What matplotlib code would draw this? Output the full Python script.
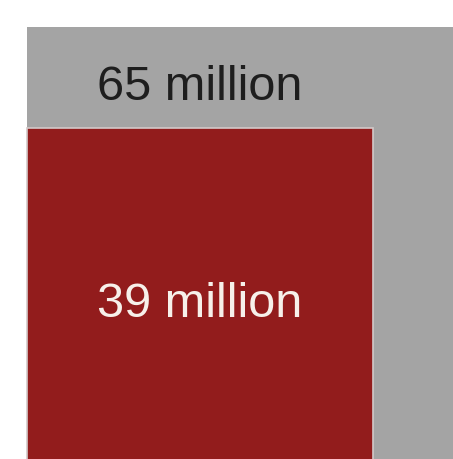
import numpy as np
import matplotlib
matplotlib.use("Agg")
import matplotlib.pyplot as plt
from matplotlib.patches import Rectangle

# values in millions, drawn as nested squares (area ~ value)
labels = ["65 million", "39 million"]
values = [65, 39]
colors = ["#a4a4a4", "#921c1c"]
text_colors = ["#1e1e1e", "#f7f0ea"]

sides = np.sqrt(values)

fig = plt.figure(figsize=(4.53, 4.6), dpi=100)
ax = fig.add_axes([0, 0, 1, 1])
ax.set_axis_off()

# outer square (total) and inner square share the bottom-left corner
ax.add_patch(Rectangle((0, 0), sides[0], sides[0], facecolor=colors[0], edgecolor="none"))
ax.add_patch(Rectangle((0, 0), sides[1], sides[1], facecolor=colors[1],
                       edgecolor="#d2c9c9", linewidth=1.2))

cx = sides[1] / 2
ax.text(cx, (sides[0] + sides[1]) / 2 - 0.16, labels[0], ha="center", va="center",
        fontsize=35, color=text_colors[0], family="Liberation Sans")
ax.text(cx, sides[1] / 2 - 0.05, labels[1], ha="center", va="center",
        fontsize=35, color=text_colors[1], family="Liberation Sans")

# the picture is a crop of a larger graphic
scale = 55.44  # pixels per unit
ax.set_xlim(-27 / scale, (453 - 27) / scale)
ax.set_ylim((475 - 460) / scale, 475 / scale)

fig.savefig("out.png", dpi=100, facecolor="white")
